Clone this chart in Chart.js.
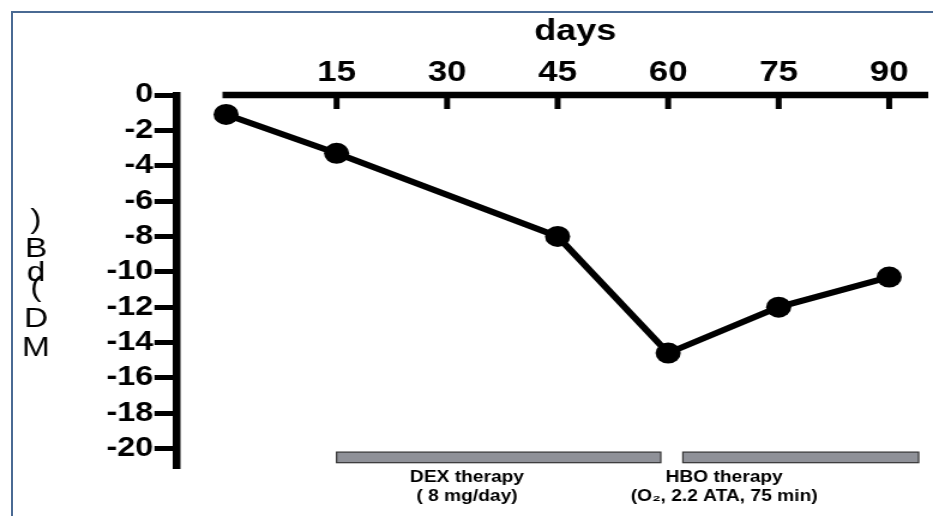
<!DOCTYPE html>
<html>
<head>
<meta charset="utf-8">
<script src="https://cdn.jsdelivr.net/npm/chart.js@4.4.1/dist/chart.umd.min.js"></script>
<style>
  html, body { margin: 0; padding: 0; background: #fff; overflow: hidden; }
  #wrap { position: relative; width: 933px; height: 516px; }
  #myChart { position: absolute; left: 0; top: 0; }
  #frame { position: absolute; left: 11px; top: 11px; width: 940px; height: 520px;
           border-left: 2px solid #4a6a93; border-top: 2px solid #4a6a93; pointer-events: none; }
</style>
</head>
<body>
<div id="wrap">
  <!-- drawn narrower and stretched sideways, like the original figure -->
  <canvas id="myChart" width="778" height="516" style="width:933px;height:516px"></canvas>
  <div id="frame"></div>
</div>
<script>
const days = [0, 15, 45, 60, 75, 90];
const mdValues = [-1.1, -3.3, -8.0, -14.6, -12.0, -10.3];
const xTicks = [15, 30, 45, 60, 75, 90];
const yTicks = [0, -2, -4, -6, -8, -10, -12, -14, -16, -18, -20];

const therapyNames = ['DEX therapy', 'HBO therapy'];
const therapyDoses = ['( 8 mg/day)', '(O\u2082, 2.2 ATA, 75 min)'];
const therapyStart = [15, 62];
const therapyEnd = [59, 94];
const therapyLabelAt = [32.7, 67.6];

const xTitle = 'days';
const yTitle = 'MD (dB)';

const FONT = "'Liberation Sans', Arial, sans-serif";
const ctx = document.getElementById('myChart').getContext('2d');

/*********************** extra drawing *******************************/
const extras = {
  id: 'extras',
  afterDraw(chart) {
    const {ctx, chartArea, scales: {x, y}} = chart;
    ctx.save();
    ctx.strokeStyle = '#000';
    ctx.fillStyle = '#000';

    // x axis on top, ticks pointing down into the plot
    ctx.lineWidth = 6.5;
    ctx.beginPath();
    ctx.moveTo(x.getPixelForValue(0) - 3, chartArea.top);
    ctx.lineTo(chartArea.right, chartArea.top);
    ctx.stroke();
    ctx.lineWidth = 5;
    xTicks.forEach(d => {
      const px = x.getPixelForValue(d);
      ctx.beginPath();
      ctx.moveTo(px, chartArea.top);
      ctx.lineTo(px, chartArea.top + 14);
      ctx.stroke();
    });

    // axis title "days"
    ctx.font = 'bold 30px ' + FONT;
    ctx.textAlign = 'center';
    ctx.textBaseline = 'middle';
    ctx.fillText(xTitle, x.getPixelForValue(47.4), 32);

    // y title, letters stacked upward
    const chars = yTitle.replace(' ', '').split('');
    const charY = [348, 319, 288, 273, 249, 220];
    ctx.font = '28px ' + FONT;
    chars.forEach((c, i) => ctx.fillText(c, 30, charY[i]));

    // therapy periods
    const top = y.getPixelForValue(-20.2);
    const bottom = y.getPixelForValue(-20.8);
    therapyNames.forEach((name, i) => {
      const x0 = x.getPixelForValue(therapyStart[i]);
      const x1 = x.getPixelForValue(therapyEnd[i]);
      ctx.fillStyle = '#8f9198';
      ctx.fillRect(x0, top, x1 - x0, bottom - top);
      ctx.strokeStyle = '#333';
      ctx.lineWidth = 1.2;
      ctx.strokeRect(x0, top, x1 - x0, bottom - top);

      ctx.fillStyle = '#000';
      ctx.font = 'bold 16px ' + FONT;
      const cx = x.getPixelForValue(therapyLabelAt[i]);
      ctx.fillText(name, cx, 478);
      ctx.fillText(therapyDoses[i], cx, 497);
    });
    ctx.restore();
  }
};

const myChart = new Chart(ctx, {
  type: 'line',
  data: {
    datasets: [{
      data: days.map((d, i) => ({x: d, y: mdValues[i]})),
      borderColor: '#000',
      borderWidth: 6,
      pointRadius: 10.5,
      pointBackgroundColor: '#000',
      pointBorderWidth: 0,
      tension: 0
    }]
  },
  options: {
    responsive: false,
    animation: false,
    events: [],
    layout: {
      autoPadding: false,
      padding: {top: 0, left: 0, right: 4, bottom: 48}
    },
    plugins: {
      legend: {display: false},
      tooltip: {enabled: false}
    },
    scales: {
      x: {
        type: 'linear',
        position: 'top',
        min: -6.79,
        max: 95.3,
        afterBuildTicks: (scale) => { scale.ticks = xTicks.map(v => ({value: v})); },
        afterFit: (scale) => { scale.height = 95; },
        grid: {display: false},
        border: {display: false},
        ticks: {
          color: '#000',
          padding: 0,
          autoSkip: false,
          maxRotation: 0,
          font: {family: FONT, size: 29, weight: 'bold', lineHeight: 1}
        }
      },
      y: {
        type: 'linear',
        min: -21.1,
        max: 0,
        afterBuildTicks: (scale) => { scale.ticks = yTicks.map(v => ({value: v})); },
        afterFit: (scale) => { scale.width = 146.8; },
        grid: {
          drawOnChartArea: false,
          drawTicks: true,
          tickLength: 18,
          tickWidth: 5,
          tickColor: '#000',
          color: '#000'
        },
        border: {display: true, color: '#000', width: 6.5},
        ticks: {
          color: '#000',
          padding: 1,
          font: {family: FONT, size: 27, weight: 'bold', lineHeight: 1}
        }
      }
    }
  },
  plugins: [extras]
});
</script>
</body>
</html>
